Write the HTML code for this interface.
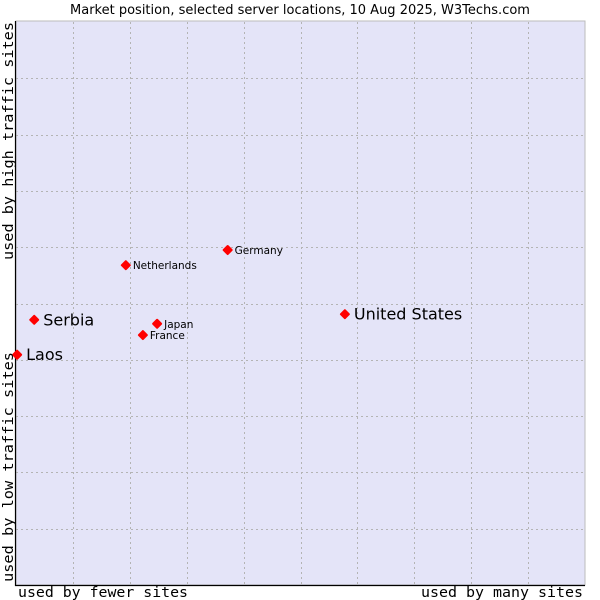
<!DOCTYPE html>
<html><head><meta charset="utf-8"><style>
body{margin:0;background:#fff;}
svg{display:block;font-family:"DejaVu Sans","Liberation Sans",sans-serif;}
</style></head><body>
<svg id="chart" width="600" height="600">
<text x="300" y="14" text-anchor="middle" font-size="13" fill="#000">Market position, selected server locations, 10 Aug 2025, W3Techs.com</text>
<rect x="16" y="21" width="569" height="564" fill="#e4e4f8" stroke="#bbb" stroke-width="1"/>
<g id="grid"></g>
<line x1="15.5" y1="21" x2="15.5" y2="586" stroke="#000" stroke-width="1.2"/>
<line x1="15" y1="585.5" x2="585" y2="585.5" stroke="#000" stroke-width="1.2"/>
<g id="points"></g>
<text x="18" y="597" textLength="170" lengthAdjust="spacingAndGlyphs" font-family="'DejaVu Sans Mono','Liberation Mono',monospace" font-size="14.5">used by fewer sites</text>
<text x="421" y="597" textLength="162" lengthAdjust="spacingAndGlyphs" font-family="'DejaVu Sans Mono','Liberation Mono',monospace" font-size="14.5">used by many sites</text>
<text transform="translate(13,582) rotate(-90)" textLength="230" lengthAdjust="spacingAndGlyphs" font-family="'DejaVu Sans Mono','Liberation Mono',monospace" font-size="14.5">used by low traffic sites</text>
<text transform="translate(13,260) rotate(-90)" textLength="238" lengthAdjust="spacingAndGlyphs" font-family="'DejaVu Sans Mono','Liberation Mono',monospace" font-size="14.5">used by high traffic sites</text>
</svg>
<script>
const names = ["Laos","Serbia","Netherlands","France","Japan","Germany","United States"];
const xValues = [0.2,3.2,19.3,22.3,24.8,37.2,57.8];
const yValues = [40.9,47.1,56.8,44.4,46.4,59.5,48.1];
const bigLabel = [true,true,false,false,false,false,true];
const gridTicks = [10,20,30,40,50,60,70,80,90];
const NS="http://www.w3.org/2000/svg";
const X0=16,X1=585,Y0=585,Y1=22;
const sx=v=>X0+v/100*(X1-X0);
const sy=v=>Y0-v/100*(Y0-Y1);
const grid=document.getElementById('grid');
gridTicks.forEach(t=>{
  const v=document.createElementNS(NS,'line');
  v.setAttribute('x1',Math.round(sx(t))+0.5);v.setAttribute('x2',Math.round(sx(t))+0.5);
  v.setAttribute('y1',Y1);v.setAttribute('y2',Y0);
  v.setAttribute('stroke','#b4b4b4');v.setAttribute('stroke-dasharray','2,3');
  
  
  grid.appendChild(v);
  const h=document.createElementNS(NS,'line');
  h.setAttribute('y1',Math.round(sy(t))+0.5);h.setAttribute('y2',Math.round(sy(t))+0.5);
  h.setAttribute('x1',X0);h.setAttribute('x2',X1);
  h.setAttribute('stroke','#b4b4b4');h.setAttribute('stroke-dasharray','2,3');
  
  
  grid.appendChild(h);
});
const pts=document.getElementById('points');
names.forEach((n,i)=>{
  const x=sx(xValues[i]),y=sy(yValues[i]);
  const c=document.createElementNS(NS,'path');
  c.setAttribute('d',`M${x-4},${y} L${x},${y-4} L${x+4},${y} L${x},${y+4}Z`);
  c.setAttribute('fill','#f00');c.setAttribute('stroke','#f00');c.setAttribute('stroke-width','2');c.setAttribute('stroke-linejoin','round');
  
  
  pts.appendChild(c);
  const t=document.createElementNS(NS,'text');
  t.setAttribute('x',x+(bigLabel[i]?9:7));
  t.setAttribute('y',y+(bigLabel[i]?5.5:4));
  t.setAttribute('font-size',bigLabel[i]?'16':'10.5');
  t.textContent=n;
  
  
  pts.appendChild(t);
});
</script>
</body></html>
